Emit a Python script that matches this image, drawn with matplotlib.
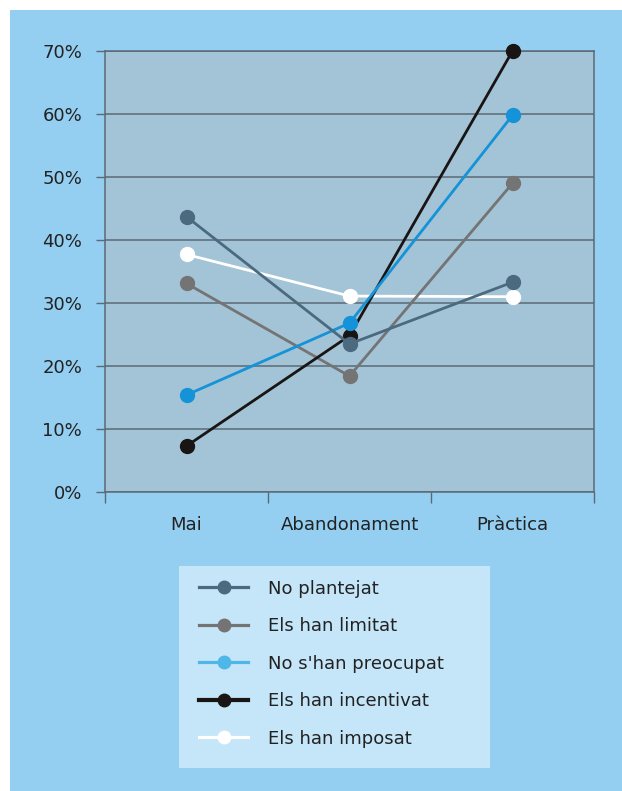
import matplotlib
matplotlib.use("Agg")
import matplotlib.pyplot as plt
from matplotlib.lines import Line2D

plt.rcParams['font.family'] = ['DejaVu Sans']

categories = ["Mai", "Abandonament", "Pràctica"]
series_names = ["No plantejat", "Els han limitat", "No s'han preocupat",
                "Els han incentivat", "Els han imposat"]
no_plantejat = [43.7, 23.5, 33.3]
han_limitat = [33.1, 18.4, 49.0]
no_preocupat = [15.4, 26.8, 59.8]
han_incentivat = [7.3, 24.8, 70.0]
han_imposat = [37.7, 31.1, 31.0]
y_ticks = [0, 10, 20, 30, 40, 50, 60, 70]
y_tick_labels = ["0%", "10%", "20%", "30%", "40%", "50%", "60%", "70%"]

values = [no_plantejat, han_limitat, no_preocupat, han_incentivat, han_imposat]
colors = ["#4b6a7f", "#747474", "#1593d8", "#1a1515", "#ffffff"]
legend_colors = ["#4b6a7f", "#747474", "#4fb6ea", "#1a1515", "#ffffff"]
zorders = [7, 4, 6, 5, 3]

W, H = 622, 791
fig = plt.figure(figsize=(W / 100, H / 100), dpi=100)
fig.patch.set_facecolor("white")

# outer light-blue panel
bg = fig.add_axes([10 / W, 0, (W - 10) / W, (H - 10) / H])
bg.set_facecolor("#94cff2")
bg.set_xticks([]); bg.set_yticks([])
for s in bg.spines.values():
    s.set_visible(False)
bg.set_zorder(0)

# main chart axes
L, R, T, B = 105, 594, 51, 492
ax = fig.add_axes([L / W, 1 - B / H, (R - L) / W, (B - T) / H])
ax.set_zorder(1)
ax.set_facecolor("#a3c3d6")
x = list(range(len(categories)))
for vals, c, z in zip(values, colors, zorders):
    ax.plot(x, vals, color=c, lw=2.0, marker="o", ms=10, mec=c, mfc=c,
            zorder=z, solid_capstyle="round", clip_on=False)

ax.set_xlim(-0.5, len(categories) - 0.5)
ax.set_ylim(0, 70)
ax.set_yticks(y_ticks)
ax.set_yticklabels(y_tick_labels)
ax.set_xticks(x)
ax.set_xticklabels(categories)
ax.set_xticks([i - 0.5 for i in range(len(categories) + 1)], minor=True)
grid_c = "#5b6975"
ax.yaxis.grid(True, color=grid_c, lw=1.1, zorder=1)
ax.set_axisbelow(True)
ax.tick_params(axis="y", direction="out", length=6.5, width=1.0, color=grid_c,
               pad=10, labelsize=13, labelcolor="#222222")
ax.tick_params(axis="x", which="major", length=0, pad=17, labelsize=13,
               labelcolor="#222222")
ax.tick_params(axis="x", which="minor", direction="out", length=8, width=1.0,
               color=grid_c)
for side in ["left", "right", "bottom", "top"]:
    ax.spines[side].set_color(grid_c)
    ax.spines[side].set_linewidth(1.1)

# legend box
lx0, lx1, ly0, ly1 = 179, 490, 566, 768
lax = fig.add_axes([lx0 / W, 1 - ly1 / H, (lx1 - lx0) / W, (ly1 - ly0) / H])
lax.set_zorder(1)
lax.set_facecolor("#c5e5f8")
lax.set_xticks([]); lax.set_yticks([])
for s in lax.spines.values():
    s.set_visible(False)
handles = [Line2D([0], [0], color=c, lw=3 if i == 3 else 2.3, marker="o", ms=9,
                  mfc=c, mec=c) for i, c in enumerate(legend_colors)]
leg = lax.legend(handles, series_names, loc="upper left",
                 bbox_to_anchor=(0.022, 1.0), frameon=False, fontsize=13,
                 handlelength=2.7, handletextpad=1.1, labelspacing=1.08,
                 borderaxespad=0.0, borderpad=0.75)
for t in leg.get_texts():
    t.set_color("#222222")

fig.savefig("out.png", dpi=100, facecolor=fig.get_facecolor())
